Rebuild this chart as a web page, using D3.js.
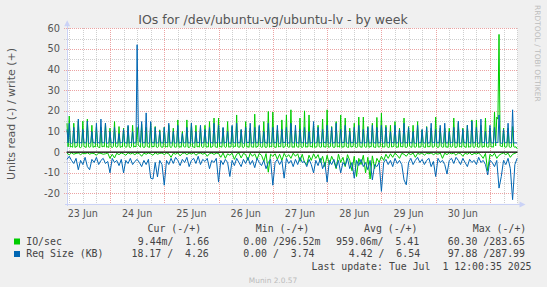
<!DOCTYPE html>
<html><head><meta charset="utf-8">
<script src="https://cdn.jsdelivr.net/npm/d3@7"></script>
<style>
html,body{margin:0;padding:0;background:#f0f0f0;}
svg{display:block;}
text{font-family:"DejaVu Sans",sans-serif;}
.mono{font-family:"DejaVu Sans Mono",monospace;white-space:pre;}
</style></head><body>
<svg id="c" width="547" height="287"></svg>
<script>
// ---------- data ----------
// write (+) series: 30-minute samples from 23 Jun 05:00 UTC to 1 Jul 12:00
// read (-) series: hourly samples over the same span
const firstSample = Date.UTC(2025, 5, 23, 5, 0);
const writeStepMinutes = 30;
const readStepMinutes = 60;
const dayLabels = ["23 Jun","24 Jun","25 Jun","26 Jun","27 Jun","28 Jun","29 Jun","30 Jun"];
const dayStarts = [Date.UTC(2025,5,23),Date.UTC(2025,5,24),Date.UTC(2025,5,25),Date.UTC(2025,5,26),
                   Date.UTC(2025,5,27),Date.UTC(2025,5,28),Date.UTC(2025,5,29),Date.UTC(2025,5,30),Date.UTC(2025,6,1)];
const yTicks = [-20,-10,0,10,20,30,40,50,60];

// IO/sec write (+)
const writeIO = [
 14,2.6, 17.5,2.5,2.7,2.4, 14,2.3,2.6,2.8, 15,2.4,2.2,2.6, 15,2.8,2.5,2.3, 16,2.6,2.4,2.7, 13,2.3,2.8,2.5, 12,2.7,2.4,2.2, 12,2.5,2.9,2.6, 14,2.4,2.6,2.3,
 11.6,2.5,2.3,2.7, 14.8,2.6,2.4,2.8, 12.4,2.3,2.7,2.5, 11.6,2.8,2.4,2.6, 12.4,2.5,2.2,2.7, 13,2.4,2.9,2.5, 12,3.5,2.8,2.4, 13.5,2.6,2.3,2.5, 12,2.7,2.5,2.3, 14,2.4,2.8,2.6, 12.4,2.5,2.3,2.7, 10.8,2.6,2.4,2.5,
 12,2.4,2.7,2.5, 13,2.6,2.3,2.8, 11.6,2.5,2.4,2.6, 15.6,2.3,2.7,2.4, 10,2.8,2.5,2.6, 15.6,2.4,2.3,2.7, 14,2.6,2.5,2.2, 13,2.5,2.8,2.4, 12,2.7,2.3,2.6, 13,2.4,2.6,2.5, 14.8,2.3,2.5,2.8, 16.5,2.6,2.4,2.3,
 16.5,2.5,2.7,2.4, 11.6,2.8,2.3,2.6, 14.8,2.4,2.6,2.5, 12.4,2.3,2.8,2.7, 18,2.6,2.4,2.5, 10.8,2.5,2.2,2.9, 14.8,2.4,2.7,2.3, 11.6,2.6,2.5,2.4, 18.4,2.3,2.6,2.8, 12.4,2.7,2.4,2.5, 14.8,2.5,2.3,2.6, 19.7,2.4,2.8,2.5,
 19.4,2.6,2.4,2.3, 10.8,2.5,2.7,2.6, 15.6,2.3,2.5,2.8, 18,2.7,2.4,2.5, 20.5,2.4,2.6,2.3, 10.8,2.8,2.5,2.4, 16.5,2.5,2.3,2.7, 20,2.4,2.6,2.5, 18,2.6,2.8,2.3, 13,2.3,2.5,2.6, 13,2.7,2.4,2.5, 16,2.5,2.6,2.4,
 20.5,2.4,2.5,2.7, 12.4,2.6,2.3,2.5, 14.8,2.5,2.8,2.4, 18,2.3,2.6,2.5, 16.5,2.7,2.4,2.3, 11.6,2.5,2.6,2.8, 14,2.4,2.3,2.6, 17,2.6,2.5,2.4, 17,2.8,2.4,2.5, 12.4,2.3,2.7,2.6, 14,2.5,2.4,2.3, 16.8,2.6,2.5,2.7,
 18.9,2.4,2.6,2.5, 13,2.7,2.3,2.4, 13,2.5,2.6,2.8, 14.8,2.3,2.5,2.4, 11.6,2.6,2.7,2.5, 16.5,2.4,2.3,2.6, 12.4,2.8,2.5,2.4, 13,2.5,2.4,2.7, 14.8,2.3,2.6,2.5, 10.8,2.6,2.4,2.3, 12.4,2.5,2.7,2.6, 11.6,2.4,2.5,2.8,
 17,2.5,2.3,2.6, 11.6,2.7,2.4,2.5, 11.6,2.4,2.6,2.3, 11.6,2.6,2.5,2.8, 16.5,2.3,2.4,2.6, 14,2.5,2.7,2.4, 11.6,2.8,2.5,2.3, 13,2.4,2.6,2.5, 15.6,2.6,2.3,2.7, 15.6,2.5,2.4,2.6, 13,2.3,2.8,2.5, 16.5,2.6,2.4,2.5,
 11.6,2.5,2.6,2.4, 19.4,3,17,16, 57,3,2.8,2.6, 11.6,2.5,2.4,2.7, 11.6,2.6,2.3,2.5, 12.4,2.7,2.4,2.6, 1.66
];
// Req Size (KB) write (+)
const writeSize = [
 11,4.5, 14,4.5,4.3,4.6, 12,4.4,4.7,4.5, 16,4.3,4.6,4.4, 11,4.6,4.4,4.7, 15,4.5,4.3,4.6, 10,4.7,4.5,4.4, 14,4.4,4.6,4.3, 16,4.6,4.5,4.7, 14,4.3,4.4,4.6,
 10,4.5,4.6,4.4, 12,4.7,4.3,4.5, 9,4.4,4.6,4.7, 11,4.6,4.5,4.3, 13,4.3,4.7,4.5, 10,4.5,4.4,4.6, 52,14,5,4.6, 14.8,4.4,4.6,4.5, 19,4.6,4.3,4.7, 14.8,4.5,4.6,4.4, 12,4.3,4.5,4.6, 10,4.7,4.4,4.5,
 12,4.4,4.6,4.5, 14,4.6,4.3,4.7, 10,4.5,4.4,4.6, 13,4.3,4.7,4.4, 9,4.7,4.5,4.6, 12,4.4,4.6,4.3, 14,4.6,4.4,4.5, 10,4.5,4.7,4.4, 13,4.3,4.5,4.6, 11,4.6,4.4,4.7, 12,4.5,4.6,4.3, 14,4.4,4.5,4.6,
 13,4.6,4.4,4.5, 12,4.3,4.7,4.6, 10,4.5,4.4,4.3, 13,4.7,4.5,4.6, 14,4.4,4.6,4.5, 11,4.6,4.3,4.4, 12,4.5,4.7,4.6, 14,4.3,4.5,4.4, 12,4.6,4.4,4.7, 13,4.4,4.6,4.5, 10,4.7,4.5,4.3, 14,4.5,4.4,4.6,
 12,4.4,4.6,4.5, 13,4.6,4.3,4.4, 11,4.5,4.7,4.6, 12,4.3,4.5,4.4, 14,4.7,4.4,4.6, 13,4.4,4.6,4.3, 11,4.6,4.5,4.7, 12,4.5,4.3,4.4, 10,4.3,4.6,4.5, 14.8,4.6,4.4,4.7, 12,4.4,4.5,4.6, 11,4.7,4.6,4.4,
 13,4.5,4.4,4.6, 12,4.3,4.6,4.5, 14,4.6,4.5,4.4, 11,4.4,4.7,4.6, 13,4.7,4.4,4.3, 10,4.5,4.6,4.5, 12,4.4,4.3,4.7, 13,4.6,4.5,4.4, 11,4.3,4.6,4.5, 12,4.5,4.4,4.6, 13,4.7,4.5,4.3, 12,4.4,4.6,4.5,
 13,4.6,4.4,4.5, 12,4.4,4.7,4.3, 10,4.5,4.6,4.4, 13,4.3,4.5,4.7, 11,4.6,4.4,4.5, 14,4.4,4.6,4.3, 12,4.7,4.5,4.4, 10,4.5,4.3,4.6, 13,4.4,4.6,4.5, 11,4.6,4.4,4.7, 12,4.3,4.5,4.6, 14,4.5,4.7,4.4,
 11,4.4,4.6,4.5, 13,4.6,4.3,4.7, 14,4.5,4.4,4.6, 10,4.3,4.7,4.5, 12,4.6,4.5,4.4, 15,4.4,4.3,4.6, 11,4.7,4.5,4.4, 13,4.5,4.6,4.3, 15,4.4,4.5,4.7, 12,4.6,4.3,4.5, 16,4.5,4.7,4.4, 10,4.3,4.5,4.6,
 13,4.6,4.4,4.5, 12,4.4,4.7,4.6, 18,4.5,4.3,4.4, 11,4.7,4.5,4.6, 14,4.4,4.6,4.3, 20.5,4.5,4.4,4.6, 4.26
];
// IO/sec read (-)
const readIO = [
 -0.5,-1.3,-0.3,-1,-0.6,-0.4,-1.2,-0.5,-0.8,-0.3,-1,-0.5,-0.7,-1.5,-0.4,-0.6,-1,-0.8,-0.4,
 -3,-1,-2.8,-0.5,-1.2,-0.4,-0.8,-1.5,-0.3,-0.9,-0.5,-1.2,-0.4,-0.7,-2,-0.5,-1,-0.4,-0.8,-1.5,-0.3,-1,-0.6,-0.4,
 -1.2,-0.4,-0.8,-2.5,-0.5,-1,-0.3,-1.8,-0.6,-0.4,-1.2,-0.5,-0.9,-0.3,-1.5,-0.6,-0.4,-1,-0.5,-2,-0.7,-0.4,-1.1,-0.5,
 -0.6,-2.5,-0.4,-3,-0.8,-1.5,-0.5,-3.5,-1,-0.4,-2.8,-0.6,-1.2,-4,-0.5,-2,-0.8,-3.5,-0.6,-1.5,-4.5,-0.7,-9.7,-1,
 -2,-0.8,-3.5,-1,-4,-0.6,-2.5,-1.2,-3,-0.5,-2,-0.8,-4.5,-1,-5,-6,-1.5,-4,-0.8,-3,-1.2,-5,-2,-7,
 -1.5,-6,-2,-4.5,-8,-1,-5,-2.5,-7,-1.2,-4,-9,-2,-11.8,-3,-6,-1.5,-10,-2.5,-13,-1.8,-8,-3,-5,
 -2,-4,-1,-3,-0.8,-2.5,-0.5,-1.5,-3,-0.6,-1,-2,-0.5,-1.2,-0.4,-2.5,-0.6,-1,-0.3,-1.5,-0.5,-0.8,-0.4,-1.2,
 -0.6,-1,-0.4,-3,-0.5,-1.2,-0.3,-0.8,-0.5,-1.5,-0.4,-0.7,-2,-0.5,-1,-0.3,-1.3,-0.6,-0.9,-0.4,-1.5,-3,-0.6,-9,
 -1,-2,-0.5,-3,-1.5,-0.8,-0.4,-1.2,-0.5,-2.5,-1,-0.6,-0.01
];
// Req Size (KB) read (-)
const readSize = [
 -3.5,-2,-4,-5.5,-3,-8.5,-4,-6,-2.5,-7,-8.5,-3.5,-5,-2.5,-6,-4,-3,-5.5,-4.5,
 -10,-3,-5,-4,-6.5,-3.5,-10,-4,-5.5,-3,-6,-4.5,-3.5,-5,-7,-4,-6,-3.5,-12.6,-13,-5,-12,-4,-6,
 -16,-4,-6,-3,-5.5,-2.5,-4,-6.5,-3.5,-5,-2.5,-7,-4,-3,-5.5,-2,-6,-3.5,-4.5,-3,-8,-4,-5,-3,
 -14.5,-4,-6,-3.5,-5,-11.8,-4,-6.5,-3,-5,-7,-3.5,-5.5,-2.5,-6,-4,-7.5,-3,-5,-6.5,-4,-8,-5,-3.5,
 -16,-5,-3.5,-6,-4,-12.6,-3,-5.5,-4,-7,-3.5,-6,-2.5,-5,-4.5,-7,-3.5,-6,-10,-4,-6.5,-3,-8,-5,
 -14.5,-4,-6,-3.5,-7.5,-4,-10,-5,-6.5,-3,-8,-5,-12.6,-4,-6.5,-3.5,-7,-5,-8.5,-4,-13.4,-6,-7,-5,
 -19,-5,-3.5,-6,-4,-7,-3,-5.5,-4,-6,-13.4,-15.8,-5,-3,-6,-4,-2.5,-5,-3.5,-6,-4,-3,-7,-4.5,
 -11.8,-3,-5,-4,-6,-10.6,-4,-3,-5.5,-2.5,-4,-6,-3,-5,-7,-3.5,-5,-4,-6,-2.5,-5,-4,-6,-11,
 -4,-5,-7,-4,-17.4,-11.8,-4,-6,-3,-8,-23,-6,-3
];
const seriesNames = ["IO/sec","Req Size (KB)"];
const seriesColors = ["#00cc00","#0066b3"];
const legendHeader = ["Cur (-/+)","Min (-/+)","Avg (-/+)","Max (-/+)"];
const legendIO = ["9.44m/  1.66","0.00 /296.52m","959.06m/  5.41","60.30 /283.65"];
const legendSize = ["18.17 /  4.26","0.00 /  3.74","4.42 /  6.54","97.88 /287.99"];
const titleText = "IOs for /dev/ubuntu-vg/ubuntu-lv - by week";
const yTitle = "Units read (-) / write (+)";
const lastUpdate = "Last update: Tue Jul  1 12:00:35 2025";

// ---------- drawing ----------
const svg = d3.select("#c");
const P = {left:66.7, right:517.5, top:28.2, bottom:203.8};
const x = d3.scaleUtc().domain([Date.UTC(2025,5,23,4,52), Date.UTC(2025,6,1,12,10)]).range([P.left, P.right]);
const y = d3.scaleLinear().domain([-25,60]).range([P.bottom, P.top]);
const H = 3600000, MIN = 60000;

svg.append("rect").attr("width",547).attr("height",287).attr("fill","#f0f0f0");
svg.append("rect").attr("x",P.left).attr("y",P.top).attr("width",P.right-P.left).attr("height",P.bottom-P.top).attr("fill","#ffffff");

const g = svg.append("g");
const minorCol = "#cfcfcf", majorCol = "#eca3a3";
d3.range(-15, 60, 10).forEach(v => {
  const yy = Math.round(y(v)) + 0.5;
  g.append("line").attr("x1",P.left-3).attr("x2",P.right).attr("y1",yy).attr("y2",yy)
    .attr("stroke",minorCol).attr("stroke-dasharray","1,1").attr("shape-rendering","crispEdges");
});
d3.utcHour.every(6).range(x.domain()[0], x.domain()[1]).filter(d => d.getUTCHours() !== 0).forEach(d => {
  const xx = Math.round(x(d)) + 0.5;
  g.append("line").attr("x1",xx).attr("x2",xx).attr("y1",P.top).attr("y2",P.bottom+2)
    .attr("stroke",minorCol).attr("stroke-dasharray","1,1").attr("shape-rendering","crispEdges");
});
yTicks.forEach(v => {
  const yy = Math.round(y(v)) + 0.5;
  g.append("line").attr("x1",P.left-3).attr("x2",P.right).attr("y1",yy).attr("y2",yy)
    .attr("stroke",majorCol).attr("stroke-dasharray","1,1").attr("shape-rendering","crispEdges");
});
dayStarts.slice(1).forEach(d => {
  const xx = Math.round(x(d)) + 0.5;
  g.append("line").attr("x1",xx).attr("x2",xx).attr("y1",P.top).attr("y2",P.bottom+2)
    .attr("stroke",majorCol).attr("stroke-dasharray","1,1").attr("shape-rendering","crispEdges");
});

// axes
const axisCol = "#cad2f6";
const by = Math.round(P.bottom)+0.5;
svg.append("line").attr("x1",P.left+0.5).attr("x2",P.left+0.5).attr("y1",P.bottom+2).attr("y2",P.top-4)
  .attr("stroke",axisCol).attr("shape-rendering","crispEdges");
svg.append("path").attr("d",`M${P.left-2.5},${P.top-2} L${P.left+0.5},${P.top-8} L${P.left+3.5},${P.top-2} Z`).attr("fill",axisCol);
svg.append("line").attr("x1",P.left-2).attr("x2",P.right+4).attr("y1",by).attr("y2",by)
  .attr("stroke",axisCol).attr("shape-rendering","crispEdges");
svg.append("path").attr("d",`M${P.right+2},${by-3} L${P.right+8},${by} L${P.right+2},${by+3} Z`).attr("fill",axisCol);

// data lines
const mk = (arr, stepMin) => arr.map((v,i) => ({t:firstSample + i*stepMin*MIN, v}));
const line = d3.line().x(d => x(d.t)).y(d => y(d.v));
const dg = svg.append("g").attr("fill","none").attr("stroke-width",1);
dg.append("path").attr("d",line(mk(readIO, readStepMinutes))).attr("stroke",seriesColors[0]);
dg.append("path").attr("d",line(mk(writeIO, writeStepMinutes))).attr("stroke",seriesColors[0]);
dg.append("path").attr("d",line(mk(readSize, readStepMinutes))).attr("stroke",seriesColors[1]);
dg.append("path").attr("d",line(mk(writeSize, writeStepMinutes))).attr("stroke",seriesColors[1]);
svg.append("line").attr("x1",P.left).attr("x2",P.right).attr("y1",y(0)).attr("y2",y(0))
  .attr("stroke","#000").attr("stroke-width",1.2);

// labels
yTicks.forEach(v => {
  svg.append("text").attr("x",60).attr("y",y(v)+3.5).attr("text-anchor","end")
    .attr("font-size",9.8).attr("fill","#555").text(v);
});
dayLabels.forEach((lab,i) => {
  svg.append("text").attr("x",x(dayStarts[i] + 12*H)).attr("y",217).attr("text-anchor","middle")
    .attr("font-size",9.6).attr("fill","#555").text(lab);
});
svg.append("text").attr("x",273).attr("y",24).attr("text-anchor","middle")
  .attr("font-size",12.5).attr("fill","#555").text(titleText);
svg.append("text").attr("transform","translate(14.5,114) rotate(-90)").attr("text-anchor","middle")
  .attr("font-size",11).attr("fill","#555").text(yTitle);
svg.append("text").attr("transform","translate(535,5) rotate(90)").attr("font-size",7.5)
  .attr("fill","#bdbdbd").text("RRDTOOL / TOBI OETIKER");

// legend
const lf = 9.9, lc = "#444";
const hdrX = [147.6, 255.8, 364, 472.8];
legendHeader.forEach((s,i) => svg.append("text").attr("class","mono").attr("x",hdrX[i]).attr("y",232)
  .attr("font-size",lf).attr("fill",lc).text(s));
const rowY = [244.8, 257.3];
const rowX = [[137.8,243.2,336,447.7],[131.5,243.2,348.8,447.7]];
[legendIO, legendSize].forEach((row,r) => {
  svg.append("rect").attr("x",14).attr("y",rowY[r]-6.3).attr("width",6).attr("height",6).attr("fill",seriesColors[r]);
  svg.append("text").attr("class","mono").attr("x",26.2).attr("y",rowY[r]).attr("font-size",lf).attr("fill",lc).text(seriesNames[r]);
  row.forEach((s,i) => svg.append("text").attr("class","mono").attr("x",rowX[r][i]).attr("y",rowY[r])
    .attr("font-size",lf).attr("fill",lc).text(s));
});
svg.append("text").attr("class","mono").attr("x",311.6).attr("y",269.7).attr("font-size",lf).attr("fill",lc).text(lastUpdate);
svg.append("text").attr("x",273).attr("y",283).attr("text-anchor","middle").attr("font-size",7.4)
  .attr("fill","#bbbbbb").text("Munin 2.0.57");
</script>
</body></html>
